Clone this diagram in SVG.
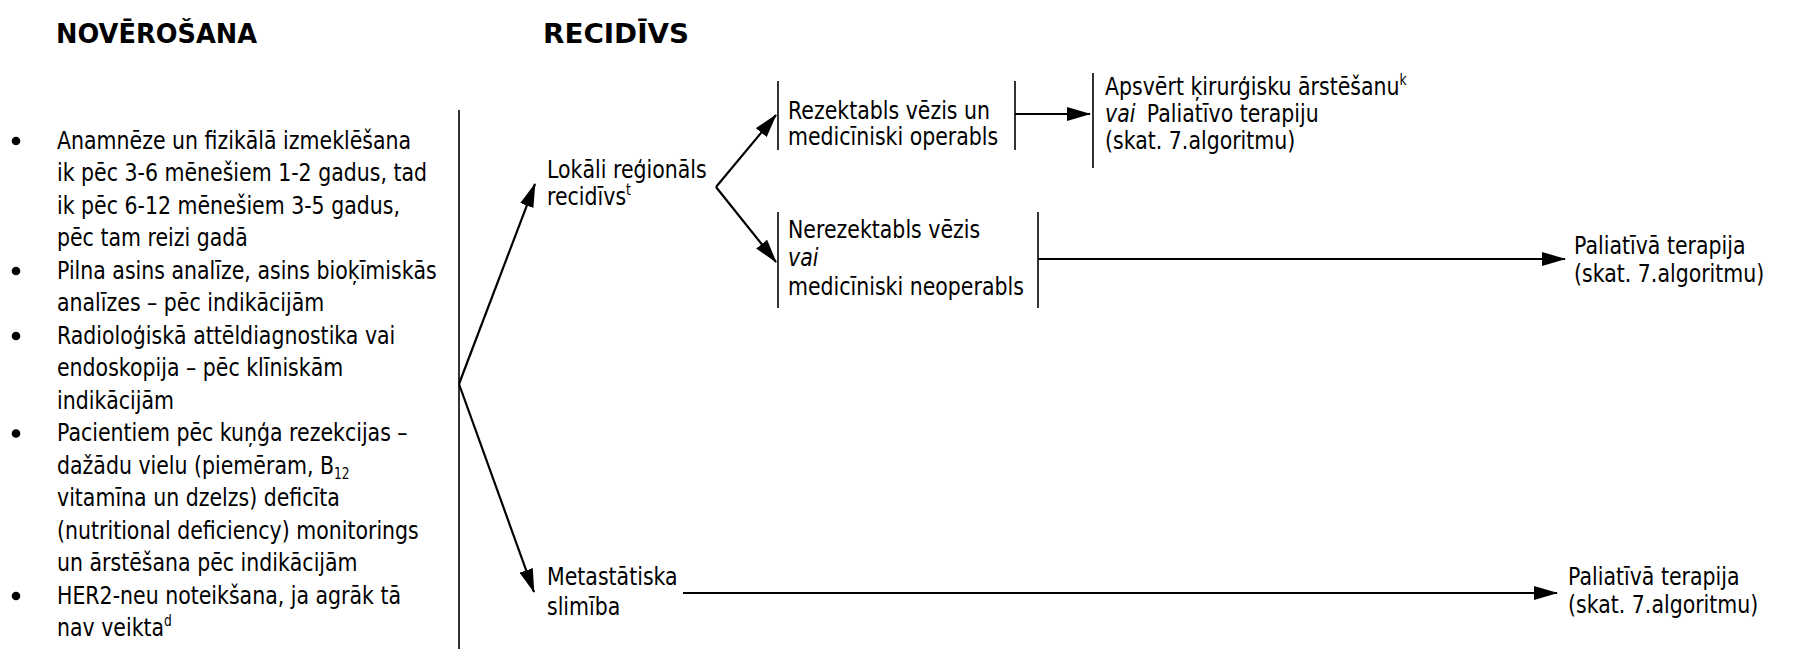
<svg xmlns="http://www.w3.org/2000/svg" width="1796" height="649" viewBox="0 0 1796 649">
<style>
.t{font-family:"DejaVu Sans",Verdana,sans-serif;font-size:25px;fill:#000}
.h{font-family:"DejaVu Sans",Verdana,sans-serif;font-size:27px;font-weight:bold;fill:#000}
.i{font-style:italic}
.sup{font-size:15px}
.ln{stroke:#000;stroke-width:2.2;fill:none}
.bar{stroke:#000;stroke-width:1.6;fill:none}
.arr{marker-end:url(#ah)}
.dot{fill:#000}
</style>
<defs>
<marker id="ah" markerUnits="userSpaceOnUse" markerWidth="24" markerHeight="14" refX="23" refY="7" orient="auto">
<path d="M0,0 L24,7 L0,14 z" fill="#000"/>
</marker>
</defs>
<rect width="1796" height="649" fill="#fff"/>

<g id="title-noverosana"><text class="h" transform="translate(56 0) scale(0.95 1)" x="0" y="43">NOVĒROŠANA</text></g>
<g id="title-recidivs"><text class="h" transform="translate(543 0) scale(1.03 1)" x="0" y="43">RECIDĪVS</text></g>

<g id="observation-list">
<circle class="dot" cx="16" cy="141" r="4.3"/>
<circle class="dot" cx="16" cy="271" r="4.3"/>
<circle class="dot" cx="16" cy="336" r="4.3"/>
<circle class="dot" cx="16" cy="433.5" r="4.3"/>
<circle class="dot" cx="16" cy="596" r="4.3"/>
<text class="t" transform="translate(57 0) scale(0.82 1)">
<tspan x="0" y="149">Anamnēze un fizikālā izmeklēšana</tspan>
<tspan x="0" y="181.5">ik pēc 3-6 mēnešiem 1-2 gadus, tad</tspan>
<tspan x="0" y="214">ik pēc 6-12 mēnešiem 3-5 gadus,</tspan>
<tspan x="0" y="246.5">pēc tam reizi gadā</tspan>
<tspan x="0" y="279">Pilna asins analīze, asins bioķīmiskās</tspan>
<tspan x="0" y="311.5">analīzes – pēc indikācijām</tspan>
<tspan x="0" y="344">Radioloģiskā attēldiagnostika vai</tspan>
<tspan x="0" y="376.5">endoskopija – pēc klīniskām</tspan>
<tspan x="0" y="409">indikācijām</tspan>
<tspan x="0" y="441.5">Pacientiem pēc kuņģa rezekcijas –</tspan>
<tspan x="0" y="474">dažādu vielu (piemēram, B</tspan><tspan class="sup" dy="5">12</tspan>
<tspan x="0" y="506.5">vitamīna un dzelzs) deficīta</tspan>
<tspan x="0" y="539">(nutritional deficiency) monitorings</tspan>
<tspan x="0" y="571.5">un ārstēšana pēc indikācijām</tspan>
<tspan x="0" y="604">HER2-neu noteikšana, ja agrāk tā</tspan>
<tspan x="0" y="636.5">nav veikta</tspan><tspan class="sup" dy="-10">d</tspan>
</text>
</g>

<g id="node-lokali">
<text class="t" transform="translate(547 0) scale(0.82 1)">
<tspan x="0" y="178">Lokāli reģionāls</tspan>
<tspan x="0" y="205">recidīvs</tspan><tspan class="sup" dy="-10">t</tspan>
</text>
</g>

<g id="node-metastatiska">
<text class="t" transform="translate(547 0) scale(0.82 1)">
<tspan x="0" y="585">Metastātiska</tspan>
<tspan x="0" y="615">slimība</tspan>
</text>
</g>

<g id="node-rezektabls">
<line class="bar" x1="778" y1="81" x2="778" y2="150"/>
<line class="bar" x1="1015" y1="81" x2="1015" y2="150"/>
<text class="t" transform="translate(788 0) scale(0.82 1)">
<tspan x="0" y="119">Rezektabls vēzis un</tspan>
<tspan x="0" y="145">medicīniski operabls</tspan>
</text>
</g>

<g id="node-nerezektabls">
<line class="bar" x1="778" y1="212" x2="778" y2="308"/>
<line class="bar" x1="1038" y1="212" x2="1038" y2="308"/>
<text class="t" transform="translate(788 0) scale(0.82 1)">
<tspan x="0" y="238">Nerezektabls vēzis</tspan>
<tspan x="0" y="266" class="i">vai</tspan>
<tspan x="0" y="295">medicīniski neoperabls</tspan>
</text>
</g>

<g id="node-apsvert">
<line class="bar" x1="1093" y1="73" x2="1093" y2="168"/>
<text class="t" transform="translate(1105 0) scale(0.82 1)">
<tspan x="0" y="95">Apsvērt ķirurģisku ārstēšanu</tspan><tspan class="sup" dy="-10">k</tspan>
<tspan x="0" y="122" class="i">vai</tspan><tspan dx="6"> Paliatīvo terapiju</tspan>
<tspan x="0" y="149">(skat. 7.algoritmu)</tspan>
</text>
</g>

<g id="node-paliativa-1">
<text class="t" transform="translate(1574 0) scale(0.82 1)">
<tspan x="0" y="254">Paliatīvā terapija</tspan>
<tspan x="0" y="282">(skat. 7.algoritmu)</tspan>
</text>
</g>

<g id="node-paliativa-2">
<text class="t" transform="translate(1568 0) scale(0.82 1)">
<tspan x="0" y="585">Paliatīvā terapija</tspan>
<tspan x="0" y="613">(skat. 7.algoritmu)</tspan>
</text>
</g>

<g id="connectors">
<line class="bar" x1="459" y1="110" x2="459" y2="649"/>
<line class="ln arr" x1="459" y1="384" x2="535" y2="184"/>
<line class="ln arr" x1="459" y1="384" x2="534" y2="592"/>
<line class="ln arr" x1="716" y1="187" x2="776" y2="115"/>
<line class="ln arr" x1="716" y1="187" x2="776" y2="262"/>
<line class="ln arr" x1="1015" y1="114" x2="1090" y2="114"/>
<line class="ln arr" x1="1038" y1="259" x2="1565" y2="259"/>
<line class="ln arr" x1="683" y1="593" x2="1557" y2="593"/>
</g>
</svg>
